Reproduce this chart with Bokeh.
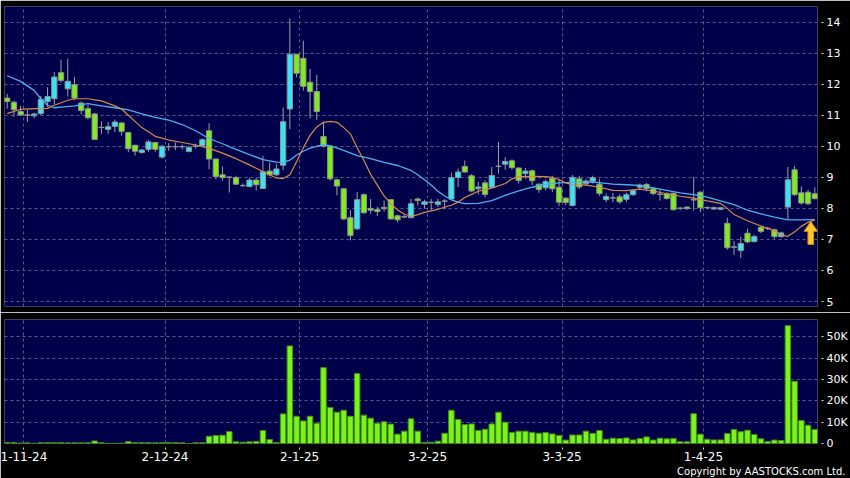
from bokeh.plotting import figure
from bokeh.layouts import column
from bokeh.models import FixedTicker, ColumnDataSource, Range1d, Title
from bokeh.embed import file_html
from bokeh.resources import INLINE

# ---------------- data ----------------
date_labels = ["1-11-24", "2-12-24", "2-1-25", "3-2-25", "3-3-25", "1-4-25"]
date_idx = [2, 23, 43, 62, 82, 103]

opens = [
    11.55, 11.42, 11.12, 11.01, 10.98, 11.05, 11.44, 11.53, 12.37, 11.85,
    11.98, 11.39, 11.21, 11.04, 10.61, 10.54, 10.64, 10.75, 10.44, 10.03,
    9.80, 9.90, 10.12, 9.65, 9.99, 9.99, 9.99, 9.83, 10.01, 10.02,
    10.50, 9.59, 9.08, 9.01, 8.99, 8.74, 8.70, 8.91, 8.64, 9.20,
    9.08, 9.39, 11.20, 12.96, 12.83, 12.06, 11.76, 10.31, 10.00, 8.92,
    8.63, 7.70, 7.34, 8.44, 8.00, 7.96, 8.03, 8.28, 7.76, 7.73,
    7.70, 8.30, 8.13, 8.20, 8.13, 8.24, 8.30, 8.99, 9.35, 9.05,
    8.63, 8.82, 8.68, 9.36, 9.42, 9.53, 9.30, 9.12, 9.21, 8.78,
    8.66, 8.97, 8.68, 8.33, 8.09, 8.95, 8.79, 8.87, 8.78, 8.28,
    8.34, 8.37, 8.29, 8.44, 8.68, 8.77, 8.63, 8.46, 8.47, 8.49,
    8.01, 8.04, 8.28, 8.52, 8.03, 7.98, 7.97, 7.52, 6.76, 6.64,
    7.20, 6.93, 7.39, 7.36, 7.31, 7.09, 8.04, 9.24, 8.50, 8.52,
    8.47,
]
closes = [
    11.44, 11.18, 11.01, 11.00, 11.04, 11.51, 11.60, 12.23, 12.12, 12.09,
    11.55, 11.15, 10.92, 10.22, 10.60, 10.63, 10.78, 10.48, 9.92, 9.84,
    9.88, 10.14, 9.90, 10.00, 9.98, 9.98, 9.98, 9.96, 10.00, 10.21,
    9.59, 9.03, 8.99, 9.00, 8.78, 8.73, 8.91, 8.76, 9.18, 9.08,
    9.27, 10.79, 12.96, 12.35, 11.93, 11.76, 11.12, 10.00, 8.95, 8.72,
    7.66, 7.13, 8.28, 7.86, 7.94, 7.90, 7.99, 7.66, 7.63, 7.72,
    8.15, 8.25, 8.21, 8.19, 8.21, 8.23, 8.99, 9.17, 9.17, 8.56,
    8.69, 8.45, 9.06, 9.35, 9.51, 9.31, 8.90, 9.20, 8.89, 8.61,
    8.86, 8.63, 8.20, 8.19, 9.00, 8.69, 8.88, 8.99, 8.48, 8.38,
    8.33, 8.21, 8.44, 8.57, 8.75, 8.64, 8.48, 8.45, 8.32, 7.96,
    8.00, 7.99, 8.27, 8.02, 8.02, 8.03, 8.02, 6.73, 6.75, 6.87,
    6.92, 7.09, 7.26, 7.35, 7.09, 7.21, 8.92, 8.44, 8.17, 8.15,
    8.31,
]
highs = [
    11.69, 11.46, 11.30, 11.17, 11.08, 11.62, 11.90, 12.39, 12.79, 12.82,
    12.23, 11.44, 11.32, 11.08, 10.80, 10.78, 10.86, 10.78, 10.46, 10.05,
    9.92, 10.20, 10.15, 10.05, 10.10, 10.12, 10.05, 10.02, 10.08, 10.25,
    10.74, 9.59, 9.35, 9.02, 9.05, 8.80, 8.98, 8.99, 9.69, 9.48,
    9.42, 11.25, 14.12, 12.98, 13.40, 12.49, 12.30, 10.79, 10.02, 8.95,
    8.65, 7.94, 8.53, 8.48, 8.30, 8.05, 8.25, 8.30, 7.80, 7.80,
    8.30, 8.35, 8.28, 8.30, 8.30, 8.30, 9.15, 9.28, 9.54, 9.10,
    8.85, 8.90, 9.33, 10.14, 9.65, 9.58, 9.32, 9.30, 9.25, 8.80,
    8.92, 9.05, 8.95, 8.35, 9.07, 9.05, 8.95, 9.05, 8.95, 8.48,
    8.50, 8.45, 8.50, 8.60, 8.80, 8.82, 8.68, 8.60, 8.52, 8.50,
    8.04, 8.06, 9.00, 8.55, 8.06, 8.05, 8.04, 7.70, 6.95, 7.08,
    7.34, 7.15, 7.45, 7.40, 7.35, 7.25, 9.33, 9.37, 8.70, 8.60,
    8.68,
]
lows = [
    11.21, 10.95, 10.97, 10.78, 10.90, 11.00, 11.26, 11.35, 12.05, 11.60,
    11.48, 11.02, 10.86, 10.20, 10.40, 10.40, 10.46, 10.35, 9.81, 9.70,
    9.76, 9.82, 9.82, 9.60, 9.85, 9.88, 9.90, 9.80, 9.93, 10.00,
    9.26, 8.94, 8.89, 8.51, 8.75, 8.68, 8.68, 8.57, 8.62, 9.05,
    9.05, 9.23, 10.55, 12.22, 11.79, 10.90, 10.85, 9.96, 8.90, 8.42,
    7.62, 6.97, 7.30, 7.82, 7.83, 7.75, 7.90, 7.64, 7.55, 7.68,
    7.68, 8.10, 8.00, 7.95, 8.05, 7.98, 8.28, 8.68, 9.15, 8.52,
    8.45, 8.35, 8.66, 9.12, 9.25, 9.25, 8.80, 8.95, 8.75, 8.50,
    8.58, 8.52, 8.08, 8.10, 8.07, 8.62, 8.75, 8.80, 8.40, 8.20,
    8.20, 8.15, 8.20, 8.40, 8.62, 8.55, 8.42, 8.25, 8.28, 7.92,
    7.94, 7.95, 7.93, 7.88, 7.97, 7.95, 7.95, 6.67, 6.50, 6.40,
    6.88, 6.90, 7.20, 7.30, 7.02, 7.05, 7.66, 8.40, 8.12, 8.10,
    8.30,
]
volume_k = [
    0.5, 0.5, 0.2, 0.3, 0.1, 0.4, 0.4, 0.4, 0.4, 0.3,
    0.3, 0.3, 0.4, 1.2, 0.4, 0.1, 0.1, 0.1, 0.9, 0.4,
    0.4, 0.4, 0.3, 0.4, 0.4, 0.4, 0.3, 0.0, 0.4, 0.4,
    3.4, 3.75, 3.9, 5.6, 0.8, 0.6, 0.8, 1.0, 6.1, 1.9,
    0.5, 13.9, 45.8, 12.8, 10.6, 12.8, 9.5, 35.6, 16.9, 14.7,
    15.6, 12.8, 32.8, 13.3, 11.9, 9.5, 10.2, 9.1, 4.4, 5.8,
    11.6, 5.8, 0.5, 0.6, 1.1, 4.8, 15.6, 11.25, 8.9, 9.2,
    6.1, 6.7, 9.2, 14.7, 10.0, 5.2, 5.8, 5.8, 5.2, 4.8,
    5.2, 4.5, 3.75, 1.6, 4.0, 4.0, 5.8, 4.8, 6.1, 2.0,
    2.5, 2.3, 2.6, 1.7, 2.3, 3.1, 1.6, 2.5, 2.2, 2.3,
    0.8, 0.8, 14.0, 4.4, 2.0, 1.7, 1.7, 4.7, 6.6, 5.5,
    6.25, 4.2, 2.2, 0.9, 1.6, 1.4, 55.3, 29.2, 10.8, 8.6,
    6.6,
]

# moving averages (orange = short, blue = long)
ma_short_idx = [0, 2, 4, 6, 7, 9, 10, 12, 14, 16, 17, 18, 19, 20, 22, 24, 26, 28, 30,
                32, 34, 36, 38, 40, 41, 42, 43, 44, 45, 46, 47, 48, 49, 50, 51, 52,
                53, 54, 55, 56, 57, 58, 59, 60, 61, 62, 64, 66, 67, 68, 69, 70, 72,
                74, 75, 76, 78, 80, 81, 82, 83, 84, 86, 88, 90, 92, 94, 96, 98, 100,
                102, 104, 106, 107, 108, 110, 112, 114, 115, 116, 117, 118, 119, 120]
ma_short_val = [11.05, 11.19, 11.21, 11.22, 11.32, 11.48, 11.53, 11.53, 11.46, 11.30,
                11.20, 11.00, 10.80, 10.60, 10.32, 10.20, 10.12, 10.04, 9.93,
                9.78, 9.60, 9.40, 9.18, 8.98, 8.96, 9.08, 9.50, 9.95, 10.35, 10.62,
                10.77, 10.80, 10.77, 10.60, 10.40, 9.95, 9.55, 9.10, 8.75, 8.40,
                8.15, 7.95, 7.82, 7.74, 7.80, 7.87, 7.97, 8.10, 8.20, 8.35, 8.45,
                8.55, 8.65, 8.80, 8.95, 9.02, 9.03, 9.02, 9.00, 8.92, 8.82, 8.76,
                8.75, 8.68, 8.58, 8.57, 8.62, 8.56, 8.47, 8.39, 8.33, 8.24, 8.16,
                8.00, 7.80, 7.60, 7.43, 7.28, 7.15, 7.10, 7.25, 7.42, 7.55, 7.63]
ma_long_idx = [0, 2, 4, 5, 6, 7, 8, 10, 12, 14, 16, 18, 20, 22, 24, 26, 28, 30, 32,
               34, 36, 38, 40, 41, 42, 43, 44, 45, 46, 47, 48, 50, 52, 54, 56, 58,
               60, 61, 62, 63, 64, 65, 66, 67, 68, 70, 72, 74, 76, 78, 80, 82, 84,
               86, 88, 90, 92, 94, 96, 98, 100, 102, 104, 106, 108, 110, 112, 114,
               116, 118, 120]
ma_long_val = [12.27, 12.09, 11.80, 11.53, 11.32, 11.24, 11.26, 11.30, 11.37, 11.30,
               11.24, 11.17, 11.04, 10.93, 10.84, 10.70, 10.50, 10.25, 10.08,
               9.90, 9.73, 9.57, 9.49, 9.48, 9.55, 9.72, 9.84, 9.94, 10.00, 10.04,
               10.02, 9.87, 9.70, 9.60, 9.48, 9.38, 9.22, 9.08, 8.92, 8.75, 8.55,
               8.40, 8.27, 8.20, 8.15, 8.16, 8.25, 8.42, 8.56, 8.68, 8.77, 8.82,
               8.84, 8.85, 8.83, 8.78, 8.76, 8.74, 8.66, 8.58, 8.50, 8.44, 8.36,
               8.24, 8.12, 7.94, 7.82, 7.72, 7.63, 7.63, 7.64]

price_ticks = [5, 6, 7, 8, 9, 10, 11, 12, 13, 14]
volume_ticks = [0, 10, 20, 30, 40, 50]
volume_tick_labels = ["0", "10K", "20K", "30K", "40K", "50K"]
copyright_text = "Copyright by AASTOCKS.com Ltd."

# ---------------- styles ----------------
BG = "#00004a"
GRID = "#5a5a92"
UP = "#38e4f4"
DOWN = "#80ec1c"
DOJI = "#9a9a9a"
BORDER = "#8c9494"
WICK = "#a0a0a0"
VOL_FILL = "#7cf41c"
VOL_LINE = "#3f8f10"
FONT = "DejaVu Sans"

W = 850
LB = 4
RB = 33

n = len(opens)
idx = list(range(n))
xr = Range1d(-0.4, n - 1 + 0.4)

colors = []
tops = []
bottoms = []
for o, c in zip(opens, closes):
    tops.append(max(o, c))
    bottoms.append(min(o, c))
    if c > o + 0.015:
        colors.append(UP)
    elif c < o - 0.015:
        colors.append(DOWN)
    else:
        colors.append(DOJI)

src = ColumnDataSource(dict(x=idx, high=highs, low=lows, top=tops,
                            bottom=bottoms, color=colors, vol=volume_k))

date_ticks = [i + 0.45 for i in date_idx]


def style_axis(ax, size):
    ax.axis_line_color = None
    ax.major_tick_in = -4
    ax.major_tick_out = 6
    ax.major_tick_line_color = "#dddddd"
    ax.minor_tick_line_color = None
    ax.major_label_text_color = "white"
    ax.major_label_text_font = FONT
    ax.major_label_text_font_size = size


# ---------------- price panel ----------------
p = figure(width=W, height=312, x_range=xr, y_range=Range1d(4.84, 14.5),
           output_backend="svg", toolbar_location=None,
           x_axis_location=None, y_axis_location="right",
           min_border_left=LB, min_border_right=RB, min_border_top=6,
           min_border_bottom=6, background_fill_color=BG,
           border_fill_color="black", outline_line_color=None)
p.yaxis.ticker = FixedTicker(ticks=price_ticks)
style_axis(p.yaxis[0], "11px")
p.yaxis.major_label_standoff = 3
p.ygrid.ticker = FixedTicker(ticks=price_ticks)
p.xgrid.ticker = FixedTicker(ticks=date_ticks)
for g in (p.xgrid, p.ygrid):
    g.grid_line_color = GRID
    g.grid_line_dash = "3 3"
    g.grid_line_width = 1

p.segment(x0="x", y0="low", x1="x", y1="high", source=src,
          line_color=WICK, line_width=1)
p.vbar(x="x", width=0.78, top="top", bottom="bottom", source=src,
       fill_color="color", line_color=BORDER, line_width=1)

p.line(ma_long_idx, ma_long_val, line_color="#4cb2ee", line_width=1.3)
p.line(ma_short_idx, ma_short_val, line_color="#d88a4c", line_width=1.2)

# yellow arrow pointing at the last average value
ax_ = idx[-1] - 0.6
tip = ma_short_val[-1] - 0.05
hw, hh, sw, sh = 1.0, 0.32, 0.42, 0.42
p.patch([ax_, ax_ + hw, ax_ + sw, ax_ + sw, ax_ - sw, ax_ - sw, ax_ - hw],
        [tip, tip - hh, tip - hh, tip - hh - sh, tip - hh - sh, tip - hh, tip - hh],
        fill_color="#fcc82c", line_color="#d88c10", line_width=1)

# ---------------- volume panel ----------------
v = figure(width=W, height=166, x_range=xr, y_range=Range1d(0, 58.2),
           output_backend="svg", toolbar_location=None,
           y_axis_location="right",
           min_border_left=LB, min_border_right=RB, min_border_top=7,
           min_border_bottom=35, background_fill_color=BG,
           border_fill_color="black", outline_line_color=None)
v.yaxis.ticker = FixedTicker(ticks=volume_ticks)
v.yaxis.major_label_overrides = dict(zip(volume_ticks, volume_tick_labels))
style_axis(v.yaxis[0], "11px")
v.yaxis.major_label_standoff = 3
v.xaxis.ticker = FixedTicker(ticks=date_ticks)
v.xaxis.major_label_overrides = dict(zip(date_ticks, date_labels))
style_axis(v.xaxis[0], "12px")
v.xaxis.major_label_standoff = 2
v.ygrid.ticker = FixedTicker(ticks=volume_ticks[1:])
v.xgrid.ticker = FixedTicker(ticks=date_ticks)
for g in (v.xgrid, v.ygrid):
    g.grid_line_color = GRID
    g.grid_line_dash = "3 3"
    g.grid_line_width = 1

v.vbar(x="x", width=0.82, top="vol", bottom=0, source=src,
       fill_color=VOL_FILL, line_color=VOL_LINE, line_width=1)

v.add_layout(Title(text=copyright_text, align="right", offset=-28, standoff=0,
                   text_font=FONT, text_font_size="10px",
                   text_font_style="normal", text_color="white"), "below")

layout = column(p, v, spacing=0)
open("out.html", "w").write(file_html(layout, INLINE))
